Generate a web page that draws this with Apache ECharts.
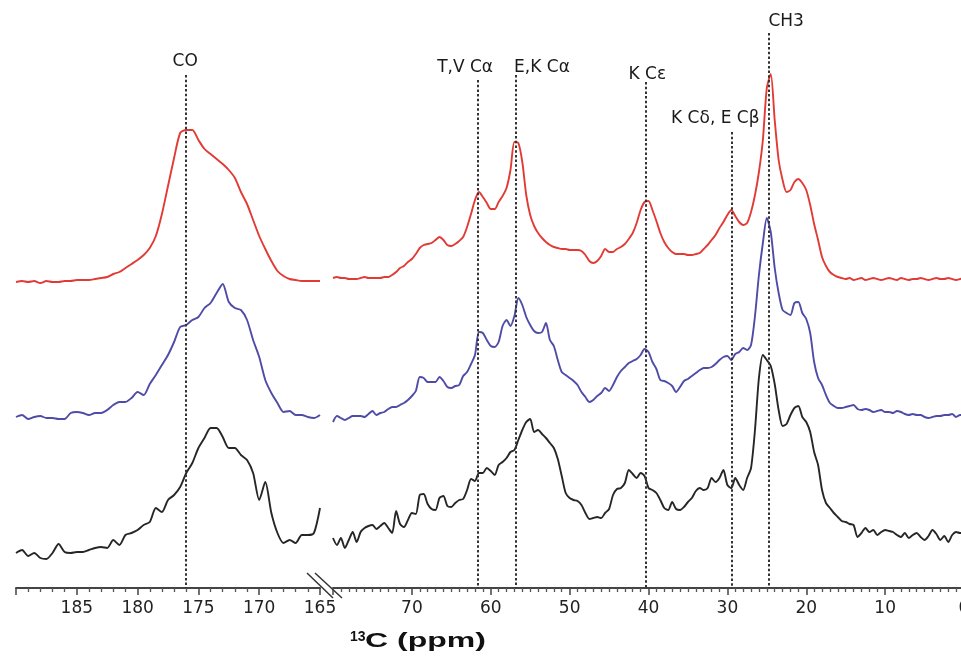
<!DOCTYPE html>
<html>
<head>
<meta charset="utf-8">
<script src="https://cdn.jsdelivr.net/npm/echarts@6/dist/echarts.min.js"></script>
<style>html,body{margin:0;padding:0;background:#fff}#c{width:961px;height:663px}</style>
</head>
<body>
<div id="c"></div>
<script>
// ---- DATA ----
// chemical shift sample positions (ppm)
const ppmLeft = [190,189.5,189,188.5,188,187.5,187,186.5,186,185.5,185,184.5,184,183.5,183,182.5,182,181.5,181,180.5,180,179.5,179,178.5,178,177.5,177,176.5,176,175.5,175,174.5,174,173.5,173,172.5,172,171.5,171,170.5,170,169.5,169,168.5,168,167.5,167,166.5,166,165.5,165];
const ppmRight = [80,79.5,79,78.5,78,77.5,77,76.5,76,75.5,75,74.5,74,73.5,73,72.5,72,71.5,71,70.5,70,
69.5,69,68.5,68,67.5,67,66.5,66,65.5,65,64.5,64,63.5,63,62.5,62,61.5,61,60.5,60,
59.5,59,58.5,58,57.5,57,56.5,56,55.5,55,54.5,54,53.5,53,52.5,52,51.5,51,50.5,50,
49.5,49,48.5,48,47.5,47,46.5,46,45.5,45,44.5,44,43.5,43,42.5,42,41.5,41,40.5,40,
39.5,39,38.5,38,37.5,37,36.5,36,35.5,35,34.5,34,33.5,33,32.5,32,31.5,31,30.5,30,
29.5,29,28.5,28,27.5,27,26.5,26,25.5,25,24.5,24,23.5,23,22.5,22,21.5,21,20.5,20,
19.5,19,18.5,18,17.5,17,16.5,16,
15.5,15,14.5,14,13.5,13,12.5,12,11.5,11,10.5,10,9.5,9,8.5,8,7.5,7,6.5,6,5.5,5,4.5,4,3.5,3,2.5,2,1.5,1,0.5,0];

// stacked spectra intensities (arbitrary units, offsets included)
const redLeft = [306,307,306,307,305,307,306,306,307,307,308,308,308,309,310,311,314,316,320,324,328,333,340,352,374,402,430,455,458,458,448,439,434,429,424,418,410,396,384,368,352,339,327,317,312,309,308,307,307,307,307];
const blueLeft = [171,173,169,171,172,170,170,169,169,175,176,175,173,175,175,178,183,186,186,190,196,193,204,213,223,233,246,261,263,268,271,280,285,295,304,286,280,278,268,248,231,208,195,185,176,177,173,173,171,170,173];
const blackLeft = [35,38,32,35,30,29,35,44,36,35,36,36,38,40,41,40,48,43,53,55,58,63,66,80,76,88,93,101,115,125,140,150,160,160,151,140,140,133,128,115,88,106,75,55,45,48,45,53,53,55,80];

const redRight = [310,311,310,310,309,309,309,310,311,310,310,310,310,311,311,313,316,320,322,326,329,
334,340,343,344,345,348,351,348,343,342,344,347,351,361,374,388,396,391,385,379,
379,386,392,400,418,446,445,426,393,373,362,355,350,346,343,341,340,339,339,338,
338,338,337,333,327,325,327,332,339,336,336,339,341,344,349,355,365,378,386,387,
378,367,355,346,340,336,334,334,334,333,333,334,335,339,343,348,353,360,366,373,
378,372,366,363,365,376,393,416,448,500,514,468,428,408,396,398,406,409,405,398,
383,364,348,331,322,316,313,311,
310,309,310,308,309,310,308,309,310,309,308,309,310,309,308,310,309,308,309,309,310,309,308,309,310,309,309,310,309,308,309,310];
const blueRight = [166,172,170,168,170,172,172,172,171,174,177,173,175,176,179,181,181,183,185,188,192,
197,211,210,206,206,206,211,207,201,200,202,203,212,216,224,233,256,255,248,242,
241,246,262,268,262,272,290,283,271,263,257,255,256,265,248,242,228,216,213,210,
207,203,196,191,186,188,192,195,200,197,203,211,217,221,225,227,229,233,239,236,
226,219,208,207,205,202,196,201,207,209,212,215,218,220,220,221,224,228,231,232,
228,234,236,240,238,243,272,313,345,370,356,320,295,278,275,273,285,286,275,269,
255,226,210,203,193,185,182,180,
180,181,182,183,179,178,179,178,176,177,178,176,176,175,177,176,174,173,174,173,173,171,170,171,172,172,173,173,174,171,173,173];
const blackRight = [50,43,50,40,48,56,46,56,60,62,63,59,62,65,60,55,77,64,61,68,75,
74,93,94,84,79,78,90,92,82,81,85,88,89,98,109,107,115,115,120,117,
113,123,126,130,136,138,148,158,166,169,156,158,154,150,145,140,129,112,95,90,
88,87,83,75,69,70,71,70,75,79,93,99,100,105,118,114,110,115,112,100,
98,95,88,80,78,86,79,78,81,86,90,97,100,98,100,110,106,110,118,103,
100,110,103,98,110,120,158,210,233,228,222,204,178,162,164,173,180,182,171,166,
156,136,123,98,85,80,75,71,
67,66,64,63,51,55,60,56,58,53,56,58,57,56,53,51,55,50,53,55,51,48,52,58,54,48,52,46,53,56,55,55];

// peak assignments
const assignNames = ['CO', 'T,V C\u03b1', 'E,K C\u03b1', 'K C\u03b5', 'K C\u03b4, E C\u03b2', 'CH3'];
const assignPpm = [176, 61.6, 56.8, 40.4, 29.5, 24.7];

// ---- LAYOUT / STYLE ----
const lineTop = [513, 508, 513, 506, 456, 555];      // top of marker line (y units)
const labelDx = [-1, -13, 26, 2, -16, 17];            // label horizontal shift (px)
const labelY = [62, 68, 68, 75, 119, 22];             // label centre (px)
const COLORS = { red: '#e23a34', blue: '#4e4ca6', black: '#262626' };
const FONT = 'DejaVu Sans';

const chart = echarts.init(document.getElementById('c'), null, { renderer: 'canvas' });

function pairs(xs, ys) { return xs.map((x, i) => [x, ys[i]]); }

function axis(grid, min, max, interval, split) {
  return {
    gridIndex: grid, type: 'value', inverse: true, min: min, max: max, interval: interval,
    axisLine: { show: true, onZero: false, lineStyle: { color: '#444', width: 2 } },
    axisTick: { show: true, length: 7, lineStyle: { color: '#444', width: 1.5 } },
    minorTick: { show: true, splitNumber: split, length: 4, lineStyle: { color: '#555', width: 1.3 } },
    splitLine: { show: false }, minorSplitLine: { show: false },
    axisLabel: { showMaxLabel: false, showMinLabel: true, fontSize: 17, fontFamily: FONT, color: '#222', margin: 12 }
  };
}

function trace(name, grid, xs, ys, color, extra) {
  return Object.assign({
    name: name, type: 'line', xAxisIndex: grid, yAxisIndex: grid,
    data: pairs(xs, ys), showSymbol: false, symbol: 'none', smooth: 0.25,
    lineStyle: { color: color, width: 1.9 }, silent: true, z: 3
  }, extra || {});
}

function markLines(idxs) {
  return {
    symbol: 'none', silent: true, animation: false,
    label: { show: false },
    lineStyle: { color: '#333', width: 2, type: [2.5, 2.2] },
    data: idxs.map(i => [{ coord: [assignPpm[i], lineTop[i]] }, { coord: [assignPpm[i], 0] }])
  };
}

const option = {
  animation: false,
  backgroundColor: '#ffffff',
  grid: [
    { left: 16, width: 304, top: 0, height: 588, containLabel: false, outerBoundsMode: 'none' },
    { left: 333, width: 631, top: 0, height: 588, containLabel: false, outerBoundsMode: 'none' }
  ],
  xAxis: [axis(0, 165, 190, 5, 5), axis(1, 0, 80, 10, 10)],
  yAxis: [
    { gridIndex: 0, type: 'value', min: 0, max: 588, show: false },
    { gridIndex: 1, type: 'value', min: 0, max: 588, show: false }
  ],
  series: [
    trace('red', 0, ppmLeft, redLeft, COLORS.red),
    trace('blue', 0, ppmLeft, blueLeft, COLORS.blue),
    trace('black', 0, ppmLeft, blackLeft, COLORS.black, { markLine: markLines([0]) }),
    trace('red', 1, ppmRight, redRight, COLORS.red),
    trace('blue', 1, ppmRight, blueRight, COLORS.blue),
    trace('black', 1, ppmRight, blackRight, COLORS.black, { markLine: markLines([1, 2, 3, 4, 5]) })
  ]
};
chart.setOption(option);

// annotations, axis break and axis title
const graphics = [];
assignNames.forEach((n, i) => {
  const gi = i === 0 ? 0 : 1;
  const px = chart.convertToPixel({ xAxisIndex: gi }, assignPpm[i]);
  graphics.push({
    type: 'text', x: px + labelDx[i], y: labelY[i], silent: true,
    style: { text: n, fontSize: 17, fontFamily: FONT, fill: '#1a1a1a', align: 'center', verticalAlign: 'middle' }
  });
});
graphics.push({ type: 'line', silent: true, shape: { x1: 307, y1: 573, x2: 333, y2: 598 }, style: { stroke: '#333', lineWidth: 1.5 } });
graphics.push({ type: 'line', silent: true, shape: { x1: 315, y1: 573, x2: 342, y2: 598 }, style: { stroke: '#333', lineWidth: 1.5 } });
graphics.push({
  type: 'text', x: 350, y: 630, silent: true,
  style: { text: '13', fontSize: 14, fontWeight: 'bold', fontFamily: 'Liberation Sans', fill: '#111', align: 'left', verticalAlign: 'top' }
});
graphics.push({
  type: 'text', x: 365, y: 631, scaleX: 1.6, silent: true,
  style: { text: 'C (ppm)', fontSize: 20, fontWeight: 'bold', fontFamily: 'Liberation Sans', fill: '#111', align: 'left', verticalAlign: 'top' }
});
chart.setOption({ graphic: graphics });
</script>
</body>
</html>
